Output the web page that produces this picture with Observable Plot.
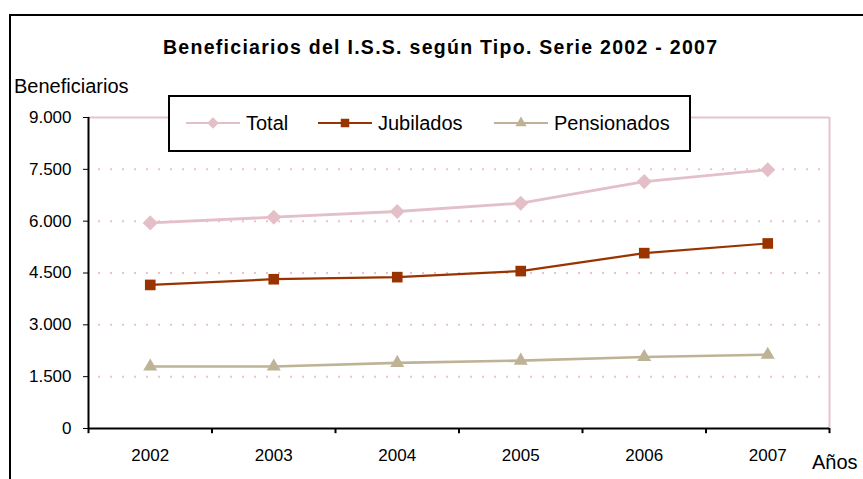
<!DOCTYPE html>
<html><head><meta charset="utf-8">
<script src="https://cdn.jsdelivr.net/npm/d3@7"></script>
<script src="https://cdn.jsdelivr.net/npm/@observablehq/plot@0.6"></script>
<style>
body{margin:0;background:#fff;}
#wrap{position:relative;width:863px;height:479px;overflow:hidden;font-family:"Liberation Sans",Arial,sans-serif;background:#fff;}
#frame{position:absolute;left:9px;top:14px;width:900px;height:500px;border-left:2px solid #000;border-top:2px solid #000;}
#chart{position:absolute;left:0;top:0;}
#overlay{position:absolute;left:0;top:0;}
</style></head><body>
<div id="wrap"><div id="frame"></div><div id="chart"></div><svg id="overlay" width="863" height="479"></svg></div>
<script>
const years = [2002, 2003, 2004, 2005, 2006, 2007];
const total = [5950, 6115, 6280, 6520, 7145, 7490];
const jubilados = [4155, 4320, 4380, 4555, 5075, 5355];
const pensionados = [1795, 1795, 1900, 1965, 2070, 2135];
const yTicks = [0, 1500, 3000, 4500, 6000, 7500, 9000];
const seriesNames = ["Total", "Jubilados", "Pensionados"];
const seriesColors = ["#e3bfc8", "#993300", "#bfb396"];
const seriesSymbols = ["diamond2", "square", "triangle"];
const titleText = "Beneficiarios del I.S.S. según Tipo. Serie 2002 - 2007";
const yLabel = "Beneficiarios";
const xLabel = "Años";

const seriesValues = [total, jubilados, pensionados];
const rows = [];
seriesNames.forEach((name, s) => years.forEach((year, i) => rows.push({series: name, year, value: seriesValues[s][i]})));
const bounds = [years[0] - 0.5, ...years.map(y => y + 0.5)];
const pink = "#e6c3cd";
const fmt = d => d3.format(",")(d).replace(/,/g, ".");

const marks = [
  Plot.ruleY(yTicks.slice(1, -1), {stroke: "#e9c2cf", strokeWidth: 2, strokeDasharray: "2,10", strokeDashoffset: -10}),
  Plot.ruleY([yTicks[yTicks.length - 1]], {stroke: pink, strokeWidth: 2}),
  Plot.ruleX([bounds[bounds.length - 1]], {stroke: pink, strokeWidth: 2}),
  Plot.ruleX(bounds, {y1: 0, y2: -150, stroke: "#000", strokeWidth: 2}),
  Plot.ruleX([bounds[0]], {stroke: "#000", strokeWidth: 2}),
  Plot.ruleY([0], {stroke: "#000", strokeWidth: 2})
];
const widths = [2.8, 2.2, 2.6];
const radii = [6.8, 6.0, 5.2];
seriesNames.forEach((name, s) => {
  const data = rows.filter(r => r.series === name);
  marks.push(Plot.line(data, {x: "year", y: "value", stroke: seriesColors[s], strokeWidth: widths[s]}));
  marks.push(Plot.dot(data, {x: "year", y: "value", fill: seriesColors[s], stroke: "none", symbol: seriesSymbols[s], r: radii[s]}));
});

const chart = Plot.plot({
  width: 863, height: 479,
  marginLeft: 88, marginRight: 34, marginTop: 117, marginBottom: 51,
  style: {fontFamily: "'Liberation Sans', Arial, sans-serif", fontSize: "17px", background: "transparent", color: "#000", overflow: "visible"},
  x: {domain: [bounds[0], bounds[bounds.length - 1]], ticks: years, tickFormat: d => String(d), tickSize: 0, tickPadding: 20, label: null},
  y: {domain: [0, 9000], ticks: yTicks, tickFormat: fmt, tickSize: 5, tickPadding: 12, label: null},
  marks
});
document.getElementById("chart").appendChild(chart);

// overlay: title, axis titles, legend
const ov = d3.select("#overlay").style("font-family", "'Liberation Sans', Arial, sans-serif");
ov.append("text").attr("x", 440).attr("y", 47).attr("text-anchor", "middle").attr("dominant-baseline", "central")
  .attr("font-weight", "bold").attr("font-size", 19.5).attr("textLength", 554).attr("lengthAdjust", "spacing").text(titleText);
ov.append("text").attr("x", 14).attr("y", 86).attr("dominant-baseline", "central").attr("font-size", 20).text(yLabel);
ov.append("text").attr("x", 812).attr("y", 462).attr("dominant-baseline", "central").attr("font-size", 20).text(xLabel);

const lg = ov.append("g");
lg.append("rect").attr("x", 169).attr("y", 96).attr("width", 521).attr("height", 55).attr("fill", "#fff").attr("stroke", "#000").attr("stroke-width", 2);
const legendX = [186, 318, 494];
const legendSym = [d3.symbolDiamond2, d3.symbolSquare, d3.symbolTriangle];
const legendSize = [85, 72, 55];
const ly = 123;
seriesNames.forEach((name, s) => {
  const x0 = legendX[s];
  lg.append("line").attr("x1", x0).attr("x2", x0 + 54).attr("y1", ly).attr("y2", ly).attr("stroke", seriesColors[s]).attr("stroke-width", 2);
  lg.append("path").attr("d", d3.symbol(legendSym[s], legendSize[s])()).attr("transform", `translate(${x0 + 27},${ly})`).attr("fill", seriesColors[s]);
  lg.append("text").attr("x", x0 + 60).attr("y", ly).attr("dominant-baseline", "central").attr("font-size", 20).text(name);
});
</script>
</body></html>
